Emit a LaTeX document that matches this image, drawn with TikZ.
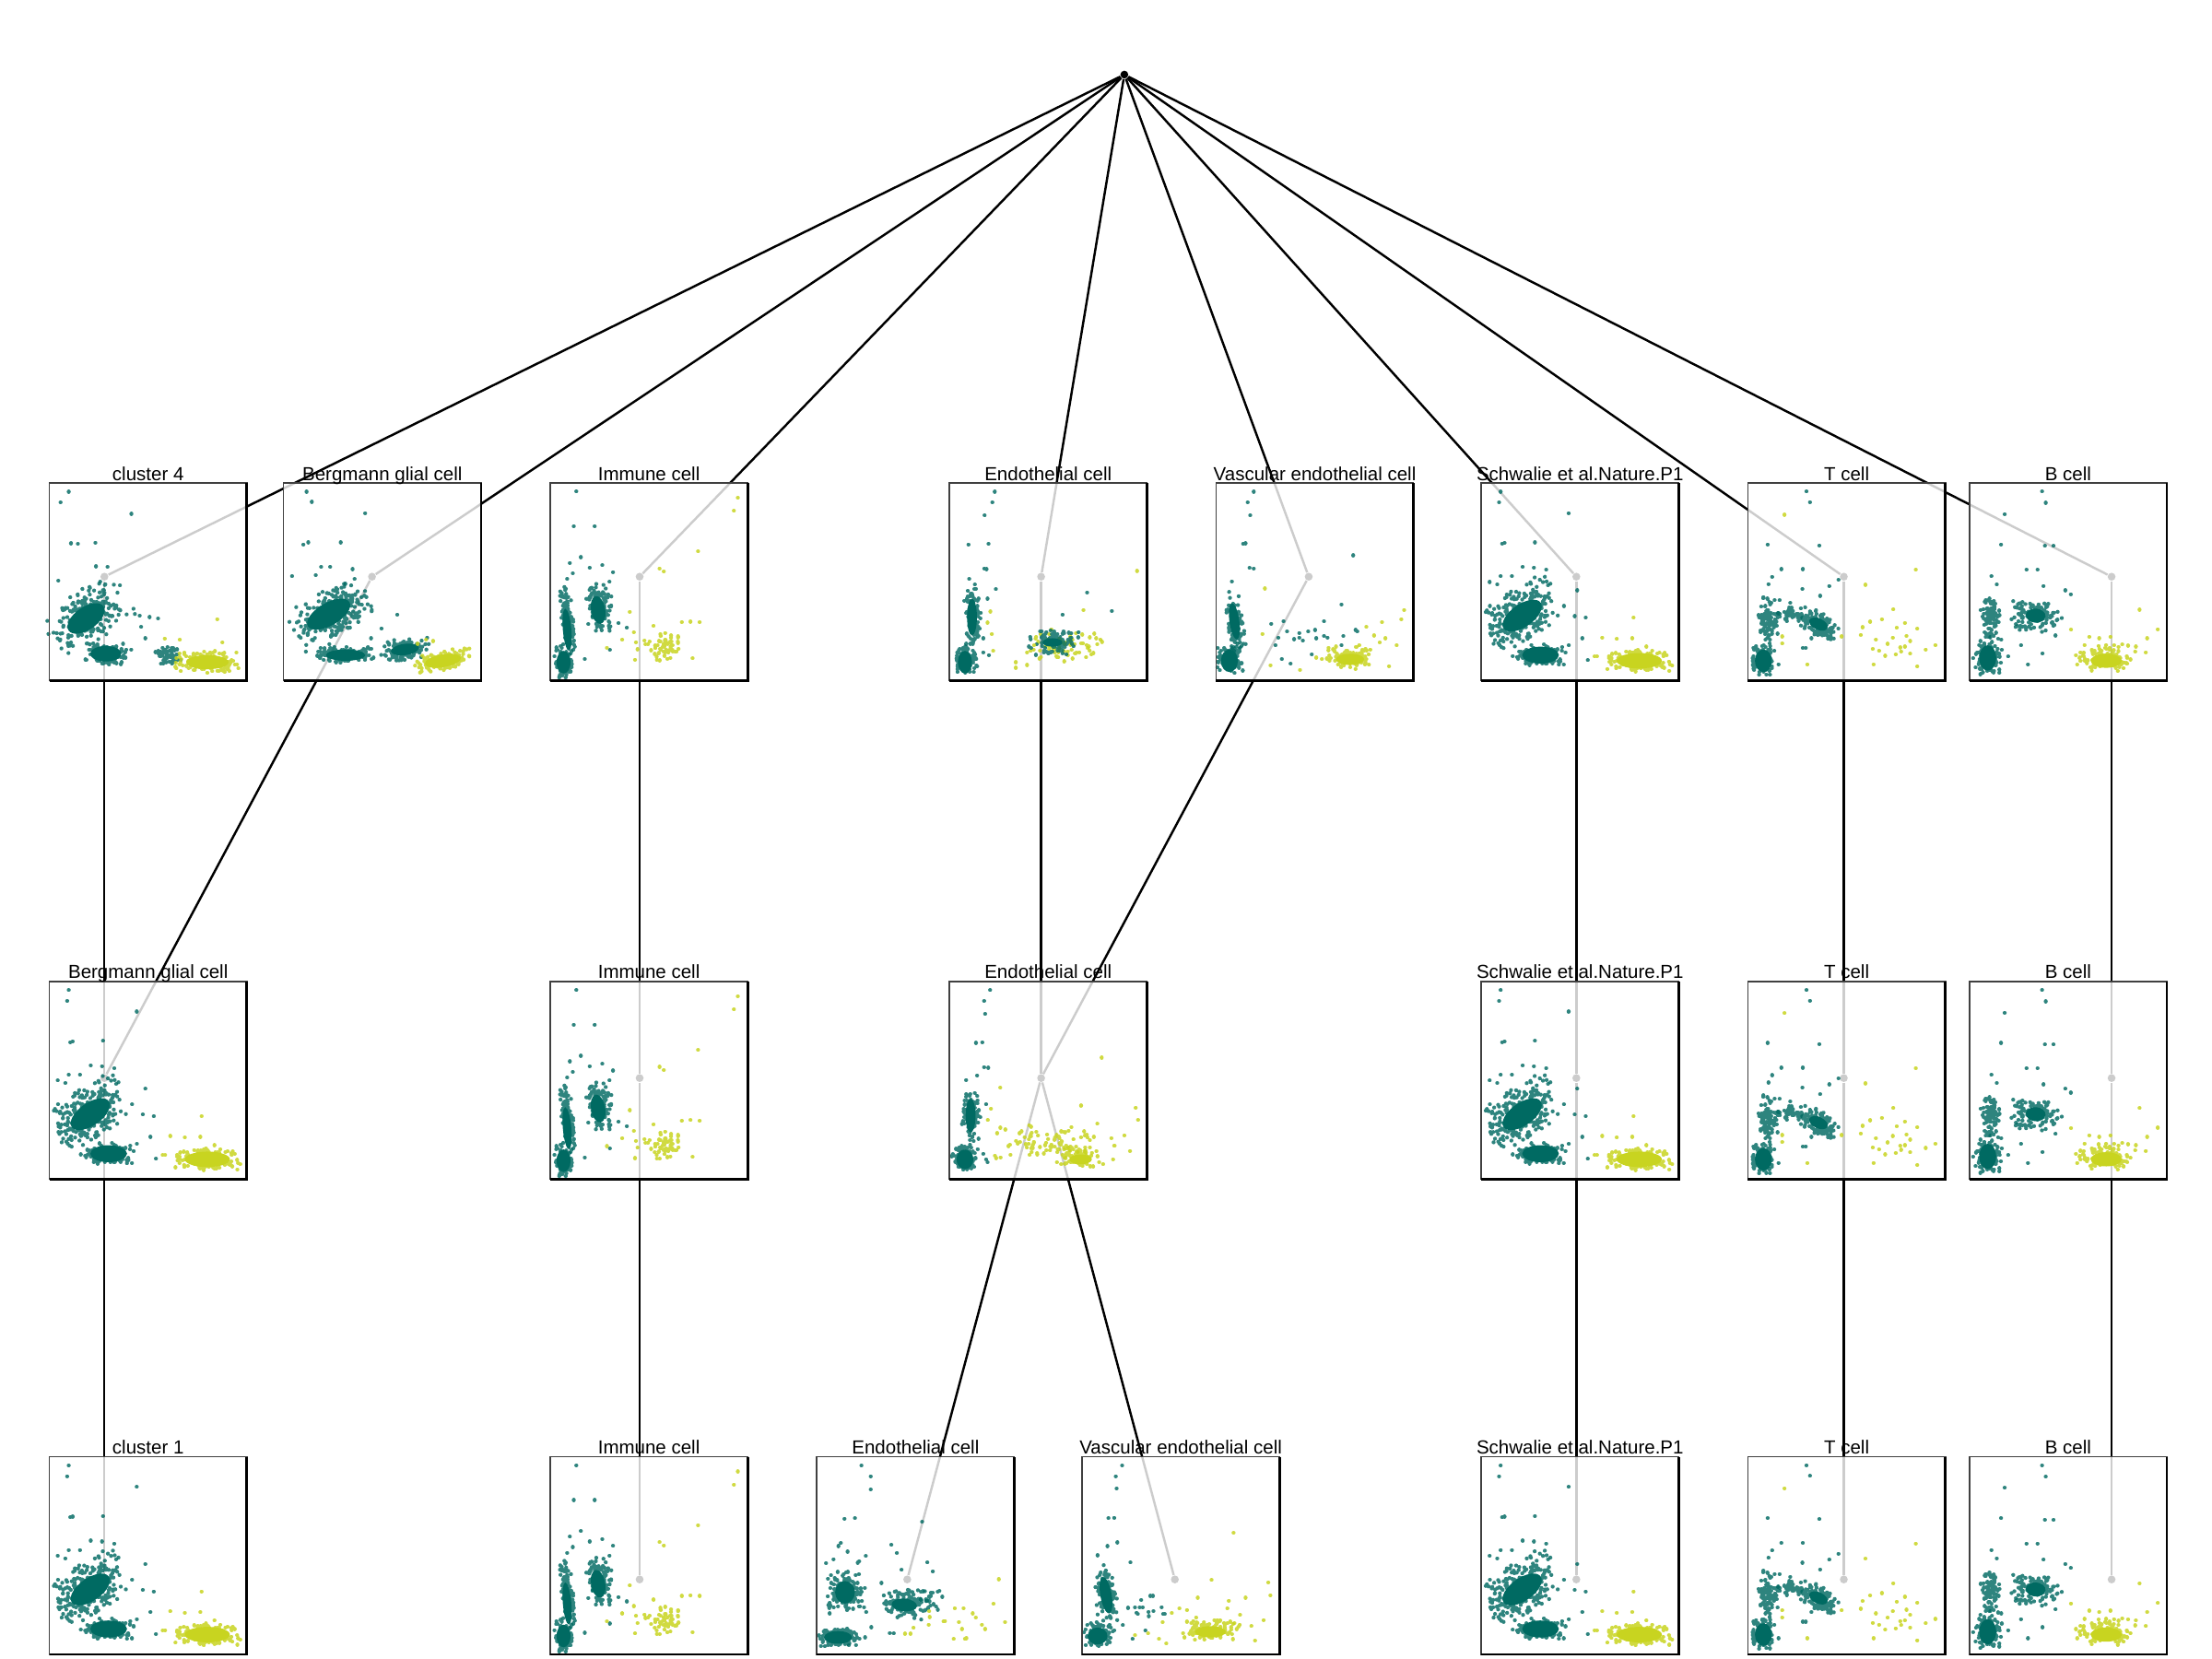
\documentclass[tikz,border=0pt]{standalone}
\usepackage{fontspec}
\setmainfont{Liberation Sans}
\usetikzlibrary{positioning}
\definecolor{tealpt}{RGB}{0,106,98}
\definecolor{limept}{RGB}{200,212,32}
\tikzset{
    treedot/.style={
    circle,fill=black,inner sep=0pt,minimum size=2.8pt
    },
    treeedge/.style={
    draw=black,line width=0.8pt
    },
    tdot/.style={
    draw=tealpt,draw opacity=0.82,line width=1.4pt,line cap=round
    },
    ydot/.style={
    draw=limept,draw opacity=0.85,line width=1.4pt,line cap=round
    },
    tcore/.style={
    fill=tealpt
    },
    ycore/.style={
    fill=limept
    },
    panelframe/.style={
    draw=black!75,line width=0.5pt
    },
    panelbase/.style={
    draw=black,line width=0.9pt
    },
    paneltitle/.style={
    anchor=base,inner sep=0pt,font=\fontsize{6.7}{7}\selectfont
    },
}
% cloud of points: u, v, spread u, spread v, count, angle, style
\newcommand\blob[7]{%
  \begin{scope}[shift={(#1,#2)},rotate=#6]
    \draw[#7] foreach \i in {1,...,#5} {({#3*(rand+rand)*0.6},{#4*(rand+rand)*0.6}) -- ++(0.05,0)};
  \end{scope}}
\newcommand\core[6]{\fill[#6,rotate around={#5:(#1,#2)}] (#1,#2) ellipse[x radius=#3,y radius=#4];}
\newcommand\spots[2]{\draw[#1] foreach \p in {#2} {\p -- ++(0.05,0)};}
% one scatter panel: left, bottom, title, points
\newcommand\panel[4]{%
  \begin{scope}[shift={(#1,#2)},yscale=-1]
    \fill[white,opacity=0.8] (0,0) rectangle (140,140);
    #4
    \draw[panelframe] (0,0) rectangle (140,140);
    \draw[panelbase] (0,0) -- (140,0) -- (140,140);
    \node[paneltitle] at (70,142) {#3};
  \end{scope}}
% repeated embeddings
\newcommand\braincloud{%
  \pgfmathsetseed{11}
  \core{29}{46}{16}{8}{-35}{tcore}
  \blob{29}{47}{27}{16}{260}{-35}{tdot}
  \core{42}{18}{13}{6}{0}{tcore}
  \blob{42}{18}{17}{7}{130}{0}{tdot}
  \core{112}{14}{16}{5.5}{0}{ycore}
  \blob{112}{14}{22}{7}{150}{0}{ydot}
  \spots{tdot}{(13.7,133.9),(12.6,126.3),(61.9,118.7),(14.8,97.1),(16.5,97.6),(38,98),(29.3,80.6),(37.3,80.1),(46,78.6),(13.7,74),(21.7,74),(5.9,69.9),(11.3,68.1),(47.3,67.5),(58.6,52.9),(66.2,45.7),(74,44.6),(71.6,30),(75.5,14.4),(6.1,52.9),(68,64),(62,25)}
  \spots{ydot}{(107.9,44.6),(85.7,30.5),(80.3,17),(82,17),(96,29.5),(107,30),(117,24)}}
\newcommand\immunecloud{%
  \pgfmathsetseed{23}
  \core{9.5}{13}{5}{8}{0}{tcore}
  \blob{9.5}{13}{6}{10}{110}{0}{tdot}
  \core{12}{36}{3}{15}{-5}{tcore}
  \blob{12.5}{40}{4}{23}{100}{-5}{tdot}
  \core{34}{50}{5}{10}{-10}{tcore}
  \blob{35}{52}{8}{16}{110}{-10}{tdot}
  \spots{tdot}{(18.5,134),(16.7,109.4),(31.5,109.4),(21.7,87.4),(13.9,83.4),(44.5,76.9),(48.4,40.7),(54.3,37.5),(42.3,21.8),(24.5,15.3),(36.9,81.7),(16,76),(12,72),(28,80),(42,70),(27,40),(30,45)}
  \blob{81}{23}{12}{10}{55}{0}{ydot}
  \spots{ydot}{(56.4,48.8),(59.3,34.2),(51,29),(60.8,27.2),(66.8,28.3),(61.9,22.2),(60.1,14.8),(40.2,23.3),(73.2,38.8),(93.3,41.4),(99.4,41.8),(105.9,41.4),(100.9,15.7),(77.5,79.5),(80.5,77.3),(104.8,91.5),(130.2,120.3),(133,129.6)}}
\newcommand\tcloud{%
  \pgfmathsetseed{37}
  \core{11}{14}{6}{8}{0}{tcore}
  \blob{11}{15}{8}{10}{110}{0}{tdot}
  \blob{15}{42}{7}{15}{100}{0}{tdot}
  \blob{30}{47}{9}{5}{40}{0}{tdot}
  \core{50}{40}{7}{4}{25}{tcore}
  \blob{50}{40}{13}{9}{120}{25}{tdot}
  \spots{tdot}{(41.5,134),(44,126.5),(14,96.5),(50.6,95.8),(23.7,79),(38.9,79),(17.2,73.6),(14.6,68.4),(64.2,71.4),(57.7,67.1),(38.6,64.9),(51.2,60.1),(38.9,23.1),(41,23.1),(21.7,11.5),(30,55),(45,30)}
  \spots{ydot}{(25.9,117.6),(119,78.6),(83.3,67.9),(103,50.4),(86.6,41.7),(95,43.4),(111.3,40.8),(120,36.7),(105.5,37.4),(81.3,37.8),(80,32.4),(66.4,31.2),(90.7,29),(102.7,30.5),(112.4,31.6),(132.9,25.1),(108,23.5),(111.3,24),(88.5,22.4),(97.3,17.5),(104.8,18.5),(108.6,20.7),(115,19),(120,10),(89.1,11.5),(42.1,11.5),(24.3,31.2),(24.3,26.2),(99,26),(93,21),(115,28),(126,22)}}
\newcommand\bcloud{%
  \pgfmathsetseed{41}
  \core{13}{16}{6}{9}{0}{tcore}
  \blob{13}{17}{9}{12}{110}{0}{tdot}
  \blob{15}{45}{6}{14}{90}{0}{tdot}
  \core{47}{46}{7}{5}{5}{tcore}
  \blob{47}{46}{16}{10}{120}{5}{tdot}
  \spots{tdot}{(51.5,134),(54.1,126),(25,118),(22.4,96.5),(53.5,95.4),(59.6,95.4),(40.5,78.6),(48.3,78.6),(15.6,74),(19.4,68.1),(52.5,67.1),(71.9,61.2),(68,64),(27.5,17),(41.5,11.5),(51.8,19.2),(36.6,25),(33,40),(61,32)}
  \core{97}{14}{11}{5}{0}{ycore}
  \blob{97}{16}{19}{9}{110}{0}{ydot}
  \spots{ydot}{(120.6,50.3),(133.5,36.4),(126,30),(72,36.1),(118,24),(125,20),(85,31),(92,30),(100,31)}}

\begin{document}
\begin{tikzpicture}[x=0.5pt,y=-0.5pt]
  \useasboundingbox (0,0) rectangle (1568,1176);
  % tree nodes
  \node[treedot] (root) at (797,52.9) {};
  \node[treedot] (c4) at (74,408.8) {};
  \node[treedot] (bg1) at (263.7,408.8) {};
  \node[treedot] (im1) at (453.4,408.8) {};
  \node[treedot] (en1) at (738,408.8) {};
  \node[treedot] (ve1) at (927.7,408.8) {};
  \node[treedot] (sw1) at (1117.4,408.8) {};
  \node[treedot] (tc1) at (1307,408.8) {};
  \node[treedot] (bc1) at (1496.8,408.8) {};
  \node[treedot] (bg2) at (74,764.2) {};
  \node[treedot] (im2) at (453.4,764.2) {};
  \node[treedot] (en2) at (738,764.2) {};
  \node[treedot] (sw2) at (1117.4,764.2) {};
  \node[treedot] (tc2) at (1307,764.2) {};
  \node[treedot] (bc2) at (1496.8,764.2) {};
  \node[treedot] (cl1) at (74,1119.6) {};
  \node[treedot] (im3) at (453.4,1119.6) {};
  \node[treedot] (en3) at (643.1,1119.6) {};
  \node[treedot] (ve3) at (832.8,1119.6) {};
  \node[treedot] (sw3) at (1117.4,1119.6) {};
  \node[treedot] (tc3) at (1307,1119.6) {};
  \node[treedot] (bc3) at (1496.8,1119.6) {};

  \path[treeedge]
    (root) edge (c4) (root) edge (bg1) (root) edge (im1) (root) edge (en1)
    (root) edge (ve1) (root) edge (sw1) (root) edge (tc1) (root) edge (bc1)
    (c4) edge (bg2) (bg1) edge (bg2) (bg2) edge (cl1)
    (im1) edge (im2) (im2) edge (im3)
    (en1) edge (en2) (ve1) edge (en2) (en2) edge (en3) (en2) edge (ve3)
    (sw1) edge (sw2) (sw2) edge (sw3)
    (tc1) edge (tc2) (tc2) edge (tc3)
    (bc1) edge (bc2) (bc2) edge (bc3);

  % row 1
  \panel{35}{482.4}{cluster 4}{%
    \pgfmathsetseed{5}
    \core{26}{44}{15}{8}{-35}{tcore}
    \blob{26}{45}{26}{16}{250}{-35}{tdot}
    \core{40}{19}{11}{5.5}{0}{tcore}
    \blob{40}{19}{14}{7}{130}{0}{tdot}
    \blob{84}{18}{8}{6}{70}{0}{tdot}
    \core{112}{13}{15}{5}{0}{ycore}
    \blob{112}{13}{21}{7}{160}{0}{ydot}
    \spots{tdot}{(13.7,133.9),(7.9,126.3),(58.1,118.2),(15.3,97.3),(20.2,96.9),(32.6,97.8),(33,81),(41.2,80.6),(50,67.5),(6.3,70.8),(36,70),(64,46),(71,45),(77,44),(65,38),(68,30),(58,22)}
    \spots{ydot}{(119,43.5),(92.4,29),(81.8,29.8),(122.6,27)}}
  \panel{201}{482.4}{Bergmann glial cell}{%
    \pgfmathsetseed{7}
    \core{32}{47}{17}{8}{-30}{tcore}
    \blob{33}{47}{27}{16}{260}{-30}{tdot}
    \core{44}{18}{14}{4}{0}{tcore}
    \blob{44}{18.5}{19}{5.5}{140}{0}{tdot}
    \core{86}{22}{10}{4}{-8}{tcore}
    \blob{86}{22}{16}{7}{120}{-8}{tdot}
    \core{113}{14}{13}{4.5}{-10}{ycore}
    \blob{113}{14}{19}{6}{150}{-10}{ydot}
    \spots{tdot}{(16.3,133.9),(20,126.7),(57.8,118.7),(14,96.5),(17.5,98),(40.5,98),(26.6,80.6),(33,80.6),(48.9,79),(6,74),(22.8,74.7),(50.3,71.9),(43.8,68.6),(80.6,46.8),(69.4,37),(62,30)}
    \spots{ydot}{(101,29),(106,28),(95,26)}}
  \panel{390}{482.4}{Immune cell}{\immunecloud}
  \panel{673}{482.4}{Endothelial cell}{%
    \pgfmathsetseed{13}
    \core{11}{13}{5}{8}{0}{tcore}
    \blob{11.7}{14}{7}{9}{110}{0}{tdot}
    \core{16}{45}{3.5}{13}{0}{tcore}
    \blob{16.5}{45}{5}{19}{100}{0}{tdot}
    \spots{tdot}{(32.1,133.9),(30.4,126.3),(24.9,117.1),(13.5,96.5),(27.7,96.9),(24.7,79.5),(26.3,79),(32.9,64.7),(97.6,62.5),(115.1,49.4),(80.2,46.8),(10.5,56.6),(18,68),(14,72),(27,58),(24,20),(28,18),(24,30)}
    \blob{82}{24}{28}{11}{70}{0}{ydot}
    \core{73}{27}{7}{3}{0}{tcore}
    \blob{74}{27}{16}{8}{110}{0}{tdot}
    \spots{ydot}{(133,77.7),(29,49),(27,41),(30,33),(31,21),(95,50),(107,29),(104,30),(98,23),(92,20),(60,25),(55,20),(47,13),(47,9),(55,11)}}
  \panel{862}{482.4}{Vascular endothelial cell}{%
    \pgfmathsetseed{17}
    \core{9.5}{14}{6}{8}{0}{tcore}
    \blob{9.5}{15}{8}{10}{110}{0}{tdot}
    \core{13}{42}{3.5}{13}{-8}{tcore}
    \blob{13}{42}{6}{19}{100}{-8}{tdot}
    \spots{tdot}{(26.7,133.9),(22.4,126.3),(24.2,117.1),(19.2,96.9),(20.9,97.3),(23.7,79.9),(26.7,79.5),(11.2,70.3),(97.2,88.7),(88.9,54),(76.5,42),(39.1,40.3),(47.8,42),(44.1,30.5),(50.3,34.8),(55.3,29.4),(59,30.5),(65.3,34.8),(70.2,35.9),(71,30),(76.5,31.6),(79,30.5),(42.1,25),(46.6,15.2),(52.8,12),(67.8,18.5),(90.2,31.6),(98.9,35.9),(100.1,34.8),(88.9,25),(59,33.7),(61.5,28.3)}
    \core{95}{15}{10}{4}{0}{ycore}
    \blob{95}{16}{17}{7}{100}{0}{ydot}
    \spots{ydot}{(34.6,65.3),(32.9,33.1),(38.6,10.9),(59.5,7.6),(71,16.3),(75,15.2),(117.6,41.4),(131.3,43.5),(133.3,50),(128,25),(122.6,10.2),(106.5,38),(101.5,25),(120,30),(116,27),(85,24),(112,32)}}
  \panel{1050}{482.4}{Schwalie et al.Nature.P1}{\braincloud}
  \panel{1239}{482.4}{T cell}{\tcloud}
  \panel{1396}{482.4}{B cell}{\bcloud}

  % row 2
  \panel{35}{835.8}{Bergmann glial cell}{\braincloud}
  \panel{390}{835.8}{Immune cell}{\immunecloud}
  \panel{673}{835.8}{Endothelial cell}{%
    \pgfmathsetseed{19}
    \core{11}{14}{6}{7}{0}{tcore}
    \blob{11}{14.5}{8}{9}{110}{0}{tdot}
    \core{15}{45}{3.5}{12}{0}{tcore}
    \blob{15.5}{45}{6}{17}{100}{0}{tdot}
    \spots{tdot}{(28.8,133.9),(24.6,126.3),(25.3,117.1),(18.8,96.6),(23.3,97),(24.6,79.4),(27.5,78.9),(19.6,73.5),(11.8,70.2),(26,53),(26,14),(24,18),(27,12)}
    \core{93}{14}{8}{3.5}{0}{ycore}
    \blob{93}{15}{15}{7}{70}{0}{ydot}
    \blob{72}{26}{42}{12}{90}{0}{ydot}
    \spots{ydot}{(107.9,86.1),(36,64.8),(93.3,52.1),(132,50.6),(133.7,41.9),(29.4,49.9),(27.2,41.8),(33.8,32.5),(124,31),(128,20),(116,14)}}
  \panel{1050}{835.8}{Schwalie et al.Nature.P1}{\braincloud}
  \panel{1239}{835.8}{T cell}{\tcloud}
  \panel{1396}{835.8}{B cell}{\bcloud}

  % row 3
  \panel{35}{1172.7}{cluster 1}{\braincloud}
  \panel{390}{1172.7}{Immune cell}{\immunecloud}
  \panel{579}{1172.7}{Endothelial cell}{%
    \pgfmathsetseed{29}
    \core{20}{44}{7}{8}{0}{tcore}
    \blob{20}{44}{12}{13}{140}{0}{tdot}
    \core{15}{12}{10}{4.5}{0}{tcore}
    \blob{15.5}{12}{13}{6}{140}{0}{tdot}
    \core{62}{35}{9}{4.5}{5}{tcore}
    \blob{62}{36}{16}{9}{130}{5}{tdot}
    \blob{80}{40}{8}{8}{20}{0}{tdot}
    \spots{tdot}{(31.6,133.9),(38.2,126.3),(38.2,116.9),(19.6,96.2),(27,96.5),(17,79),(15.3,76.8),(21.8,72.9),(34.7,69.7),(11.8,67.5),(6.5,64.7),(29,65),(30,66),(74.6,94),(52.8,77.7),(56.7,71.9),(78.3,65.1),(82.2,58.8),(60,59.9),(45.8,50.7),(38.6,19.2),(34.2,12),(22.7,6.5),(51.7,15.2),(54.5,14.8),(35,30)}
    \spots{ydot}{(79.6,30.5),(80,26.5),(79.3,21.1),(68.5,18.9),(62.5,14.6),(66.4,14.6),(89.8,23.3),(90.8,23.6),(97.8,32.7),(104,32.7),(100.7,22.9),(97,10.9),(102.9,18),(106,11.5),(105,11),(110.5,29),(112.7,26.1),(117,21.1),(119.3,18),(125.2,35.9),(129,53.3),(133.4,22.9)}}
  \panel{767}{1172.7}{Vascular endothelial cell}{%
    \pgfmathsetseed{31}
    \core{11}{13}{7}{6}{0}{tcore}
    \blob{11.5}{14}{10}{8}{120}{0}{tdot}
    \core{17}{42}{4}{13}{-10}{tcore}
    \blob{17}{42}{7}{19}{110}{-10}{tdot}
    \spots{tdot}{(28.4,133.9),(23.9,126.3),(24.5,117.6),(18.7,96.5),(22.8,96.9),(25,79.4),(18,76.8),(11,70.3),(34.3,65.1),(28.9,20.7),(35.8,10.9),(41.9,38.6),(48.4,41.4),(50.2,41.4),(37.5,33.3),(40.8,33.3),(43,33.3),(32.6,32.9),(39.5,28.5),(47.1,30.1),(47.3,27),(50.6,30.7),(56.4,33.5),(57.5,28.5),(58.6,28.5),(44.9,17),(38.6,29.6)}
    \core{91}{16}{11}{4}{0}{ycore}
    \blob{91}{17}{19}{7}{110}{0}{ydot}
    \spots{ydot}{(82,40.2),(103,32.6),(104,38),(115.9,40.2),(91.8,52.7),(107.4,86.1),(132,51),(133.5,41.9),(128.7,24.3),(122.6,9.8),(37.5,13.5),(46.8,14.8),(54.5,10.9),(59.7,7.6),(57.1,22.8),(63.6,29.3),(69,32.5),(74.4,31.5),(80.9,26.1),(112,28),(120,20),(108,22)}}
  \panel{1050}{1172.7}{Schwalie et al.Nature.P1}{\braincloud}
  \panel{1239}{1172.7}{T cell}{\tcloud}
  \panel{1396}{1172.7}{B cell}{\bcloud}
\end{tikzpicture}
\end{document}
